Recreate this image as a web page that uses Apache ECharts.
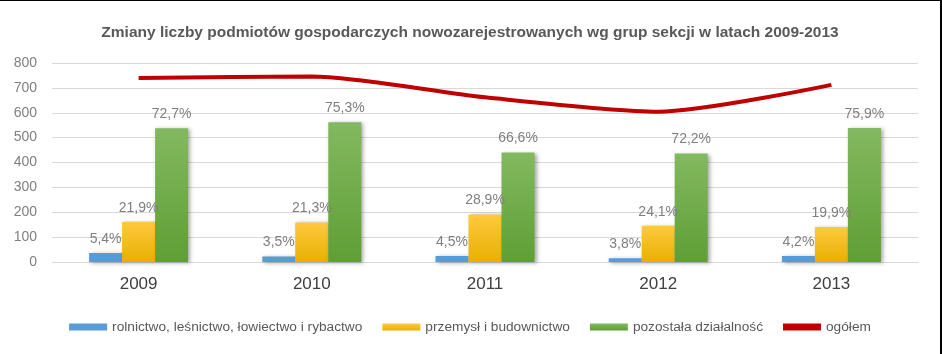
<!DOCTYPE html>
<html>
<head>
<meta charset="utf-8">
<script src="https://cdn.jsdelivr.net/npm/echarts@6/dist/echarts.min.js"></script>
<style>
  html, body { margin: 0; padding: 0; background: #fff; }
  .frame {
    width: 942px;
    height: 354px;
    box-sizing: border-box;
    border-top: 1px solid #000;
    border-right: 2px solid #000;
  }
  #chart { width: 940px; height: 353px; }
</style>
</head>
<body>
<div class="frame"><div id="chart"></div></div>
<script>
var years = ['2009', '2010', '2011', '2012', '2013'];
var rolnictwo = [36, 22, 24, 15, 24];
var przemysl = [162, 159, 191, 146, 141];
var pozostala = [538, 562, 440, 436, 539];
var ogolem = [740, 746, 662, 604, 712];
var rolnictwoPct = ['5,4%', '3,5%', '4,5%', '3,8%', '4,2%'];
var przemyslPct = ['21,9%', '21,3%', '28,9%', '24,1%', '19,9%'];
var pozostalaPct = ['72,7%', '75,3%', '66,6%', '72,2%', '75,9%'];

var chart = echarts.init(document.getElementById('chart'));

var font = '"Liberation Sans", Arial, sans-serif';
var barShadow = {
  shadowColor: 'rgba(0,0,0,0.35)',
  shadowBlur: 4,
  shadowOffsetX: 2,
  shadowOffsetY: 1
};

function pctLabel(texts) {
  return {
    show: true,
    position: 'top',
    distance: 7,
    color: '#7f7f7f',
    fontSize: 14,
    fontFamily: font,
    formatter: function (p) { return texts[p.dataIndex]; }
  };
}

function grad(top, bottom) {
  return new echarts.graphic.LinearGradient(0, 0, 0, 1, [
    { offset: 0, color: top },
    { offset: 1, color: bottom }
  ]);
}

var options = {
  animation: false,
  title: {
    text: 'Zmiany liczby podmiotów gospodarczych nowozarejestrowanych wg grup sekcji w latach 2009-2013',
    left: 'center',
    top: 19,
    textStyle: {
      color: '#595959',
      fontSize: 15.5,
      fontWeight: 'bold',
      fontFamily: font
    }
  },
  legend: {
    bottom: 15,
    left: 'center',
    itemWidth: 38,
    itemHeight: 7,
    itemGap: 20,
    textStyle: { color: '#595959', fontSize: 13.7, fontFamily: font },
    data: [
      { name: 'rolnictwo, leśnictwo, łowiectwo i rybactwo', icon: 'rect' },
      { name: 'przemysł i budownictwo', icon: 'rect' },
      { name: 'pozostała działalność', icon: 'rect' },
      { name: 'ogółem', icon: 'rect', itemStyle: { color: '#c00000' } }
    ]
  },
  grid: { left: 52, right: 22, top: 62, bottom: 92 },
  xAxis: {
    type: 'category',
    data: years,
    axisTick: { show: false },
    axisLine: { lineStyle: { color: '#d9d9d9' } },
    axisLabel: { color: '#404040', fontSize: 17, fontFamily: font, margin: 14 }
  },
  yAxis: {
    type: 'value',
    min: 0,
    max: 800,
    interval: 100,
    axisLabel: { color: '#7f7f7f', fontSize: 14, fontFamily: font, margin: 15 },
    splitLine: { lineStyle: { color: '#d9d9d9' } }
  },
  series: [
    {
      name: 'rolnictwo, leśnictwo, łowiectwo i rybactwo',
      type: 'bar',
      barWidth: 33,
      barGap: '0%',
      data: rolnictwo,
      itemStyle: Object.assign({ color: '#5b9bd5' }, barShadow),
      label: pctLabel(rolnictwoPct)
    },
    {
      name: 'przemysł i budownictwo',
      type: 'bar',
      barWidth: 33,
      barGap: '0%',
      data: przemysl,
      itemStyle: Object.assign({ color: grad('#ffc93f', '#e8b000') }, barShadow),
      label: pctLabel(przemyslPct)
    },
    {
      name: 'pozostała działalność',
      type: 'bar',
      barWidth: 33,
      barGap: '0%',
      data: pozostala,
      itemStyle: Object.assign({ color: grad('#83b960', '#5f9e35') }, barShadow),
      label: pctLabel(pozostalaPct)
    },
    {
      name: 'ogółem',
      type: 'line',
      data: ogolem,
      smooth: 0.25,
      symbol: 'none',
      lineStyle: { color: '#c00000', width: 4 },
      itemStyle: { color: '#c00000' }
    }
  ]
};

chart.setOption(options);
</script>
</body>
</html>
